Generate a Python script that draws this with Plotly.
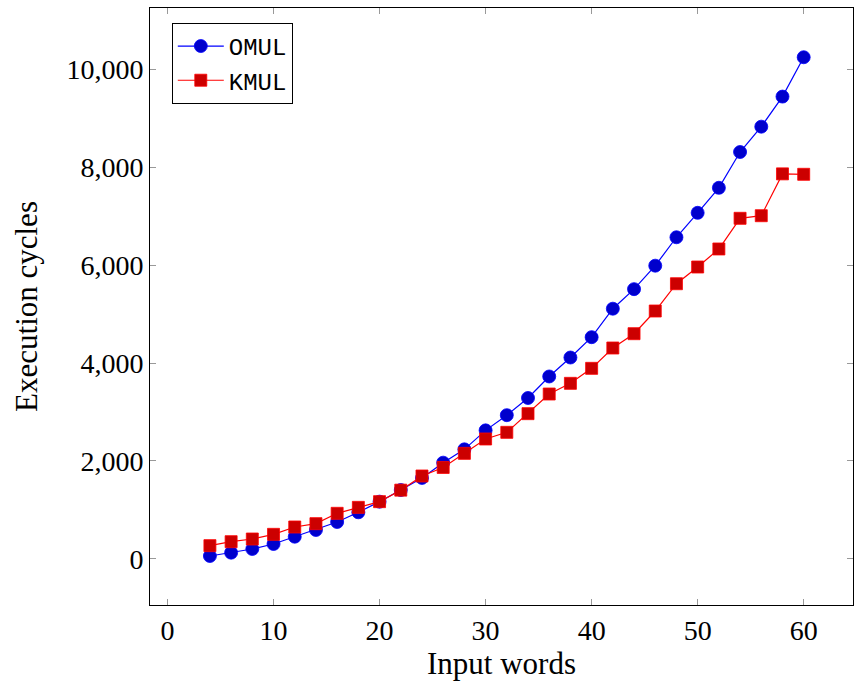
import plotly.graph_objects as go

words = [4, 6, 8, 10, 12, 14, 16, 18, 20, 22, 24, 26, 28, 30, 32, 34, 36, 38, 40,
         42, 44, 46, 48, 50, 52, 54, 56, 58, 60]
omul = [61, 129, 204, 306, 455, 592, 755, 953, 1170, 1408, 1655, 1966, 2238, 2625,
        2935, 3286, 3725, 4112, 4527, 5108, 5507, 5986, 6566, 7065, 7576, 8306,
        8823, 9437, 10240]
kmul = [272, 353, 408, 503, 653, 721, 932, 1054, 1170, 1405, 1694, 1868, 2156, 2449,
        2585, 2966, 3367, 3585, 3891, 4306, 4598, 5061, 5618, 5959, 6327, 6953,
        7006, 7860, 7851]

serif = "Liberation Serif"
mono = "Liberation Mono"

fig = go.Figure()
fig.add_trace(go.Scatter(
    x=words, y=omul, name="OMUL", mode="lines+markers",
    line=dict(color="#0000ff", width=1.2),
    marker=dict(symbol="circle", size=13, color="#0000cc",
                line=dict(color="#0000ff", width=0.8)),
))
fig.add_trace(go.Scatter(
    x=words, y=kmul, name="KMUL", mode="lines+markers",
    line=dict(color="#ff0000", width=1.2),
    marker=dict(symbol="square", size=12, color="#cc0000",
                line=dict(color="#ff0000", width=0.8)),
))

axis_common = dict(
    showline=True, linecolor="black", linewidth=1, mirror="ticks",
    ticks="inside", ticklen=6, tickcolor="#999999", tickwidth=1,
    showgrid=False, zeroline=False,
    tickfont=dict(family=serif, size=28, color="black"),
)

fig.update_layout(
    width=854, height=681,
    margin=dict(l=150, r=1, t=8, b=76),
    paper_bgcolor="white", plot_bgcolor="white",
    xaxis=dict(range=[-1.65, 64.65], tickvals=[0, 10, 20, 30, 40, 50, 60],
               title=dict(text="Input words", font=dict(family=serif, size=31, color="black"),
                          standoff=4),
               **axis_common),
    yaxis=dict(range=[-939, 11245], tickvals=[0, 2000, 4000, 6000, 8000, 10000],
               tickformat=",d",
               title=dict(text="Execution cycles", font=dict(family=serif, size=31, color="black"),
                          standoff=19),
               **axis_common),
    showlegend=True,
    legend=dict(x=0.031, y=0.975, xanchor="left", yanchor="top",
                bordercolor="black", borderwidth=1, bgcolor="white",
                font=dict(family=mono, size=24, color="black"),
                tracegroupgap=0, itemwidth=46),
)

fig.write_html("out.html")
